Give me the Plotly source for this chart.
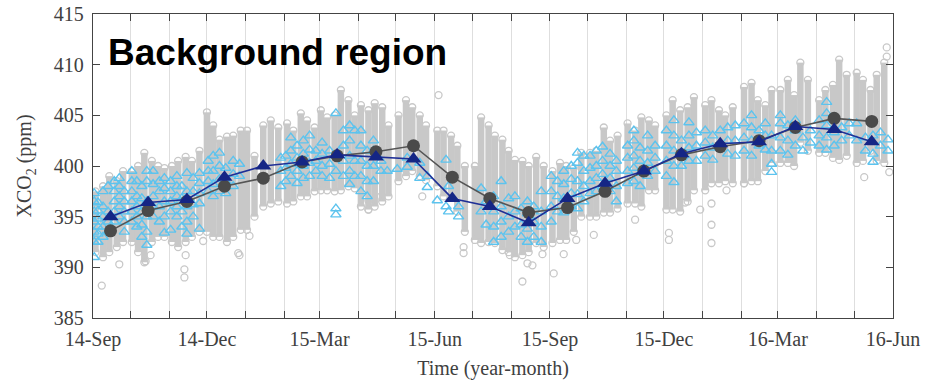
import plotly.graph_objects as go

# ---------------- data ----------------
# monthly means (mid-month)
mean_dates = ["2014-09-15", "2014-10-15", "2014-11-15", "2014-12-15", "2015-01-15", "2015-02-15",
              "2015-03-15", "2015-04-15", "2015-05-15", "2015-06-15", "2015-07-15", "2015-08-15",
              "2015-09-15", "2015-10-15", "2015-11-15", "2015-12-15", "2016-01-15", "2016-02-15",
              "2016-03-15", "2016-04-15", "2016-05-15"]
gray_mean = [393.6, 395.6, 396.5, 398.0, 398.8, 400.4, 401.0, 401.4, 402.0, 398.9, 396.8, 395.4,
             395.9, 397.5, 399.5, 401.1, 401.9, 402.5, 403.8, 404.7, 404.4]
blue_mean = [395.0, 396.4, 396.7, 398.9, 400.0, 400.4, 401.1, 400.9, 400.7, 396.8, 396.0, 394.4,
             396.8, 398.3, 399.5, 401.2, 402.2, 402.4, 403.9, 403.6, 402.4]

# dense grey sounding columns: date, lowest, highest value
col_dates = ["2014-09-03", "2014-09-09", "2014-09-14", "2014-09-20", "2014-09-25",
             "2014-10-02", "2014-10-07", "2014-10-12", "2014-10-18", "2014-10-23", "2014-10-28",
             "2014-11-03", "2014-11-08", "2014-11-14", "2014-11-19", "2014-11-25",
             "2014-12-01", "2014-12-06", "2014-12-11", "2014-12-17", "2014-12-22", "2014-12-28",
             "2015-01-02", "2015-01-08", "2015-01-15", "2015-01-21", "2015-01-27",
             "2015-02-03", "2015-02-08", "2015-02-14", "2015-02-19", "2015-02-25",
             "2015-03-02", "2015-03-07", "2015-03-13", "2015-03-18", "2015-03-24", "2015-03-29",
             "2015-04-03", "2015-04-09", "2015-04-14", "2015-04-20", "2015-04-25",
             "2015-05-03", "2015-05-09", "2015-05-14", "2015-05-20", "2015-05-25",
             "2015-06-03", "2015-06-08", "2015-06-14", "2015-06-19", "2015-06-25",
             "2015-07-03", "2015-07-08", "2015-07-14", "2015-07-19", "2015-07-25", "2015-07-30",
             "2015-08-04", "2015-08-10", "2015-08-15", "2015-08-21", "2015-08-27",
             "2015-09-03", "2015-09-09", "2015-09-14", "2015-09-20", "2015-09-26",
             "2015-10-03", "2015-10-08", "2015-10-14", "2015-10-19", "2015-10-25",
             "2015-11-02", "2015-11-08", "2015-11-13", "2015-11-19", "2015-11-24",
             "2015-12-03", "2015-12-08", "2015-12-14", "2015-12-20", "2015-12-25",
             "2016-01-03", "2016-01-08", "2016-01-14", "2016-01-19", "2016-01-25",
             "2016-02-03", "2016-02-09", "2016-02-14", "2016-02-20", "2016-02-25",
             "2016-03-03", "2016-03-09", "2016-03-14", "2016-03-19", "2016-03-25",
             "2016-04-03", "2016-04-08", "2016-04-14", "2016-04-19", "2016-04-25",
             "2016-05-03", "2016-05-08", "2016-05-14", "2016-05-19", "2016-05-25"]
col_low = [391.5, 391.0, 391.5, 392.0, 392.5,
           392.5, 391.5, 390.5, 392.5, 393.0, 393.0,
           392.5, 392.0, 392.5, 393.0, 393.5,
           393.5, 393.0, 393.0, 392.5, 393.0, 393.7,
           393.7, 395.0, 396.0, 396.3, 396.5,
           396.3, 396.5, 397.0, 397.0, 397.5,
           397.6, 397.6, 397.5, 397.6, 398.0, 397.8,
           396.0, 395.7, 396.0, 396.5, 397.0,
           398.5, 399.0, 399.5, 399.0, 398.6,
           398.0, 397.0, 397.0, 395.5, 393.5,
           392.7, 392.4, 392.5, 392.4, 391.7, 391.5,
           391.0, 391.2, 391.5, 392.4, 392.0,
           392.4, 392.7, 392.7, 393.5, 395.0,
           395.0, 395.0, 395.4, 395.4, 395.8,
           396.3, 396.3, 396.0, 397.6, 397.6,
           395.7, 395.7, 395.5, 396.5, 397.6,
           397.6, 398.3, 398.3, 398.5, 398.3,
           398.3, 398.5, 398.5, 399.5, 400.3,
           400.3, 400.3, 400.0, 402.3, 401.5,
           401.3, 401.3, 400.8, 400.6, 401.0,
           400.3, 400.5, 401.5, 400.5, 400.3]
col_high = [397.5, 398.0, 399.0, 398.5, 399.5,
            399.5, 400.0, 401.3, 400.5, 400.0, 399.8,
            400.0, 400.5, 400.9, 400.5, 401.5,
            405.3, 404.0, 402.6, 402.9, 403.0, 403.5,
            403.5, 401.0, 404.0, 404.5, 403.8,
            404.2, 403.5, 405.2, 404.5, 403.8,
            405.5, 404.8, 405.0, 407.5, 406.5, 405.0,
            406.0, 405.5, 406.2, 405.8, 404.0,
            405.0, 406.5, 405.8, 405.0, 404.0,
            403.5, 403.5, 403.0, 402.0, 400.0,
            400.0, 404.8, 404.0, 403.0, 402.6, 401.5,
            400.6, 400.5, 400.0, 400.9, 400.0,
            399.5, 400.3, 400.0, 399.8, 401.3,
            401.3, 401.5, 403.8, 402.5, 403.0,
            404.2, 403.5, 404.8, 404.5, 404.0,
            405.0, 406.5, 405.5, 405.8, 406.8,
            406.0, 406.5, 405.5, 405.0, 405.8,
            407.8, 408.2, 406.5, 406.0, 407.5,
            407.5, 408.5, 407.0, 410.2, 408.5,
            406.5, 407.5, 408.0, 410.5, 409.0,
            409.2, 408.5, 407.5, 409.0, 410.2]

# isolated grey soundings
gray_out_dates = ["2014-09-08", "2014-09-22", "2014-10-13", "2014-10-17", "2014-11-13", "2014-11-13",
                  "2014-11-14", "2014-11-28", "2014-12-27", "2015-01-04", "2014-12-26",
                  "2015-04-09", "2015-04-09", "2015-04-19", "2015-05-22", "2015-06-04",
                  "2015-06-24", "2015-06-24", "2015-07-31", "2015-08-10", "2015-08-14",
                  "2015-08-18", "2015-08-26", "2015-09-04", "2015-09-12", "2015-09-22",
                  "2015-10-06", "2015-11-08", "2015-12-05", "2015-12-05", "2015-12-18",
                  "2015-12-30", "2016-01-08", "2016-01-08", "2016-01-08", "2016-01-20",
                  "2016-02-03", "2016-05-09", "2016-05-27", "2016-05-27", "2016-05-29"]
gray_out_vals = [388.2, 390.3, 390.6, 391.2, 389.0, 389.8,
                 391.2, 392.6, 391.2, 393.1, 391.4,
                 396.6, 395.7, 397.0, 397.0, 407.0,
                 392.0, 391.4, 391.2, 388.6, 390.4,
                 390.2, 391.3, 389.4, 391.3, 392.7,
                 393.2, 394.7, 393.4, 392.7, 396.4,
                 395.7, 394.2, 396.3, 392.4, 397.6,
                 398.3, 398.9, 411.7, 410.8, 399.4]

# light-blue triangle soundings: (date, value)
blue_pts = [
    ("2014-09-02", 391.0), ("2014-09-02", 392.5), ("2014-09-02", 393.5), ("2014-09-02", 394.5),
    ("2014-09-02", 395.5), ("2014-09-02", 396.5), ("2014-09-02", 397.3),
    ("2014-09-05", 392.5), ("2014-09-05", 393.3), ("2014-09-05", 394.0), ("2014-09-05", 394.8),
    ("2014-09-05", 395.6), ("2014-09-05", 396.4),
    ("2014-09-09", 393.0), ("2014-09-09", 394.0), ("2014-09-09", 395.0), ("2014-09-09", 396.0),
    ("2014-09-09", 397.5),
    ("2014-09-13", 393.5), ("2014-09-13", 394.5), ("2014-09-13", 395.5), ("2014-09-13", 398.0),
    ("2014-09-18", 394.5), ("2014-09-18", 395.5), ("2014-09-18", 396.5), ("2014-09-18", 397.5),
    ("2014-09-18", 398.5),
    ("2014-09-22", 395.0), ("2014-09-22", 396.0), ("2014-09-22", 397.0), ("2014-09-22", 398.0),
    ("2014-09-22", 398.8),
    ("2014-09-26", 393.5), ("2014-09-26", 394.5), ("2014-09-26", 395.5), ("2014-09-26", 396.5),
    ("2014-09-26", 397.5),
    ("2014-10-02", 394.5), ("2014-10-02", 395.5), ("2014-10-02", 396.5), ("2014-10-02", 397.5),
    ("2014-10-02", 398.5), ("2014-10-02", 399.5),
    ("2014-10-06", 394.0), ("2014-10-06", 395.0), ("2014-10-06", 396.0), ("2014-10-06", 397.0),
    ("2014-10-06", 398.5),
    ("2014-10-10", 393.0), ("2014-10-10", 394.2), ("2014-10-10", 395.5), ("2014-10-10", 396.8),
    ("2014-10-10", 398.0),
    ("2014-10-14", 392.2), ("2014-10-14", 393.5), ("2014-10-14", 395.0), ("2014-10-14", 396.5),
    ("2014-10-14", 398.5), ("2014-10-14", 399.5),
    ("2014-10-19", 395.0), ("2014-10-19", 396.0), ("2014-10-19", 397.0), ("2014-10-19", 398.2),
    ("2014-10-19", 399.5),
    ("2014-10-24", 394.5), ("2014-10-24", 396.0), ("2014-10-24", 397.5), ("2014-10-24", 398.5),
    ("2014-10-28", 393.4), ("2014-10-28", 395.0), ("2014-10-28", 396.5), ("2014-10-28", 397.8),
    ("2014-10-28", 398.8),
    ("2014-11-02", 393.7), ("2014-11-02", 395.5), ("2014-11-02", 396.5), ("2014-11-02", 397.5),
    ("2014-11-02", 398.5),
    ("2014-11-07", 395.0), ("2014-11-07", 396.0), ("2014-11-07", 397.0), ("2014-11-07", 398.0),
    ("2014-11-07", 399.0),
    ("2014-11-11", 394.0), ("2014-11-11", 395.5), ("2014-11-11", 396.8), ("2014-11-11", 398.0),
    ("2014-11-15", 393.3), ("2014-11-15", 394.5), ("2014-11-15", 396.0), ("2014-11-15", 397.5),
    ("2014-11-15", 399.3),
    ("2014-11-20", 395.0), ("2014-11-20", 396.2), ("2014-11-20", 397.5), ("2014-11-20", 398.8),
    ("2014-11-25", 393.8), ("2014-11-25", 396.3), ("2014-11-25", 397.3), ("2014-11-25", 398.3),
    ("2014-11-25", 399.3),
    ("2014-12-02", 397.5), ("2014-12-02", 398.5), ("2014-12-02", 399.5), ("2014-12-02", 400.5),
    ("2014-12-06", 397.0), ("2014-12-06", 398.2), ("2014-12-06", 399.5), ("2014-12-06", 401.0),
    ("2014-12-11", 397.5), ("2014-12-11", 398.7), ("2014-12-11", 400.0), ("2014-12-11", 401.3),
    ("2014-12-16", 397.3), ("2014-12-16", 398.5), ("2014-12-16", 399.8),
    ("2014-12-22", 398.0), ("2014-12-22", 399.2), ("2014-12-22", 400.5),
    ("2014-12-27", 399.0), ("2014-12-27", 400.2),
    ("2015-01-29", 398.0), ("2015-01-29", 399.5), ("2015-01-29", 400.8),
    ("2015-02-02", 398.5), ("2015-02-02", 399.8), ("2015-02-02", 401.0),
    ("2015-02-06", 399.0), ("2015-02-06", 400.2), ("2015-02-06", 401.5), ("2015-02-06", 402.8),
    ("2015-02-11", 398.3), ("2015-02-11", 399.5), ("2015-02-11", 400.8), ("2015-02-11", 402.0),
    ("2015-02-16", 398.8), ("2015-02-16", 400.0), ("2015-02-16", 401.2), ("2015-02-16", 402.5),
    ("2015-02-21", 399.0), ("2015-02-21", 400.3), ("2015-02-21", 401.6), ("2015-02-21", 403.0),
    ("2015-02-26", 399.5), ("2015-02-26", 400.5), ("2015-02-26", 401.5),
    ("2015-03-03", 399.0), ("2015-03-03", 400.0), ("2015-03-03", 401.2), ("2015-03-03", 402.3),
    ("2015-03-09", 398.8), ("2015-03-09", 400.2), ("2015-03-09", 401.5),
    ("2015-03-14", 395.2), ("2015-03-14", 395.8), ("2015-03-14", 399.5), ("2015-03-14", 401.0),
    ("2015-03-14", 405.2),
    ("2015-03-20", 399.0), ("2015-03-20", 400.5), ("2015-03-20", 402.0), ("2015-03-20", 403.5),
    ("2015-03-25", 398.2), ("2015-03-25", 399.5), ("2015-03-25", 401.0), ("2015-03-25", 402.5),
    ("2015-03-25", 404.0),
    ("2015-03-29", 399.0), ("2015-03-29", 400.5), ("2015-03-29", 403.5),
    ("2015-04-03", 397.5), ("2015-04-03", 399.0), ("2015-04-03", 400.5), ("2015-04-03", 402.0),
    ("2015-04-03", 403.5),
    ("2015-04-08", 397.0), ("2015-04-08", 398.5), ("2015-04-08", 400.0), ("2015-04-08", 401.5),
    ("2015-04-13", 398.5), ("2015-04-13", 400.0), ("2015-04-13", 401.5), ("2015-04-13", 402.5),
    ("2015-04-19", 399.5), ("2015-04-19", 400.5),
    ("2015-04-24", 399.5),
    ("2015-05-02", 399.7), ("2015-05-10", 399.9), ("2015-05-10", 400.8),
    ("2015-05-20", 398.8), ("2015-05-20", 400.3), ("2015-05-26", 397.9), ("2015-05-26", 399.0),
    ("2015-06-03", 396.6), ("2015-06-10", 400.6), ("2015-06-10", 396.0),
    ("2015-06-12", 398.0), ("2015-06-12", 395.5), ("2015-06-20", 396.0), ("2015-06-20", 395.0),
    ("2015-07-08", 397.8), ("2015-07-08", 395.5), ("2015-07-12", 394.2), ("2015-07-12", 396.5),
    ("2015-07-18", 392.5), ("2015-07-18", 394.0), ("2015-07-18", 395.5), ("2015-07-18", 397.0),
    ("2015-07-24", 393.0), ("2015-07-24", 394.5), ("2015-07-24", 396.0), ("2015-07-24", 398.5),
    ("2015-07-30", 393.5), ("2015-07-30", 395.0), ("2015-07-30", 396.8),
    ("2015-08-04", 394.0), ("2015-08-04", 395.5), ("2015-08-04", 397.0),
    ("2015-08-09", 393.0), ("2015-08-09", 394.2), ("2015-08-09", 395.8),
    ("2015-08-14", 392.5), ("2015-08-14", 393.8), ("2015-08-14", 395.3), ("2015-08-14", 396.5),
    ("2015-08-19", 393.0), ("2015-08-19", 394.5), ("2015-08-19", 396.0),
    ("2015-08-25", 392.5), ("2015-08-25", 394.0), ("2015-08-25", 395.5), ("2015-08-25", 397.5),
    ("2015-09-02", 394.5), ("2015-09-02", 396.0), ("2015-09-02", 397.5), ("2015-09-02", 399.0),
    ("2015-09-07", 395.5), ("2015-09-07", 397.0), ("2015-09-07", 398.5),
    ("2015-09-12", 395.4), ("2015-09-12", 396.8), ("2015-09-12", 398.2), ("2015-09-12", 399.5),
    ("2015-09-18", 396.0), ("2015-09-18", 397.3), ("2015-09-18", 398.7), ("2015-09-18", 400.0),
    ("2015-09-23", 395.8), ("2015-09-23", 397.2), ("2015-09-23", 398.5), ("2015-09-23", 400.3),
    ("2015-09-23", 401.3),
    ("2015-09-28", 396.5), ("2015-09-28", 398.0), ("2015-09-28", 399.5), ("2015-09-28", 401.0),
    ("2015-10-03", 397.3), ("2015-10-03", 398.5), ("2015-10-03", 399.8), ("2015-10-03", 401.0),
    ("2015-10-08", 397.5), ("2015-10-08", 398.8), ("2015-10-08", 400.0), ("2015-10-08", 401.5),
    ("2015-10-13", 398.0), ("2015-10-13", 399.2), ("2015-10-13", 400.5), ("2015-10-13", 401.9),
    ("2015-10-19", 397.5), ("2015-10-19", 398.8), ("2015-10-19", 400.0), ("2015-10-19", 401.2),
    ("2015-10-24", 396.5), ("2015-10-24", 398.0), ("2015-10-24", 399.5), ("2015-10-24", 400.5),
    ("2015-11-02", 398.3), ("2015-11-02", 399.5), ("2015-11-02", 400.8), ("2015-11-02", 402.0),
    ("2015-11-07", 398.5), ("2015-11-07", 399.8), ("2015-11-07", 401.0), ("2015-11-07", 402.5),
    ("2015-11-07", 403.5),
    ("2015-11-12", 398.0), ("2015-11-12", 399.3), ("2015-11-12", 400.5), ("2015-11-12", 401.8),
    ("2015-11-18", 399.0), ("2015-11-18", 400.3), ("2015-11-18", 401.5), ("2015-11-18", 403.0),
    ("2015-11-24", 399.5), ("2015-11-24", 400.8), ("2015-11-24", 402.0),
    ("2015-12-03", 399.0), ("2015-12-03", 400.5), ("2015-12-03", 402.0), ("2015-12-03", 403.5),
    ("2015-12-09", 398.4), ("2015-12-09", 400.0), ("2015-12-09", 401.5), ("2015-12-09", 403.0),
    ("2015-12-09", 404.5),
    ("2015-12-15", 400.0), ("2015-12-15", 401.3), ("2015-12-15", 402.5),
    ("2015-12-21", 400.5), ("2015-12-21", 401.8), ("2015-12-21", 403.0), ("2015-12-21", 404.3),
    ("2015-12-27", 400.5), ("2015-12-27", 402.0), ("2015-12-27", 403.3),
    ("2016-01-03", 401.0), ("2016-01-03", 402.3), ("2016-01-03", 403.5),
    ("2016-01-09", 400.6), ("2016-01-09", 401.8), ("2016-01-09", 403.0),
    ("2016-01-15", 402.0), ("2016-01-15", 403.5),
    ("2016-01-21", 401.2), ("2016-01-21", 402.5), ("2016-01-21", 403.8),
    ("2016-01-27", 401.0), ("2016-01-27", 402.5), ("2016-01-27", 404.0),
    ("2016-02-03", 401.5), ("2016-02-03", 402.8), ("2016-02-03", 404.2),
    ("2016-02-09", 401.0), ("2016-02-09", 402.5), ("2016-02-09", 403.8), ("2016-02-09", 405.0),
    ("2016-02-15", 402.0), ("2016-02-15", 403.5),
    ("2016-02-20", 401.6), ("2016-02-20", 403.0), ("2016-02-20", 404.2),
    ("2016-02-25", 399.4), ("2016-02-25", 400.2), ("2016-02-25", 401.5), ("2016-02-25", 403.0),
    ("2016-03-03", 401.5), ("2016-03-03", 402.8), ("2016-03-03", 404.2), ("2016-03-03", 405.0),
    ("2016-03-09", 401.1), ("2016-03-09", 402.5), ("2016-03-09", 404.0),
    ("2016-03-15", 402.0), ("2016-03-15", 403.5), ("2016-03-15", 404.5),
    ("2016-03-21", 401.5), ("2016-03-21", 402.8),
    ("2016-03-27", 402.3), ("2016-03-27", 403.5),
    ("2016-04-03", 402.0), ("2016-04-03", 403.0), ("2016-04-03", 404.5),
    ("2016-04-09", 401.6), ("2016-04-09", 402.8), ("2016-04-09", 404.0), ("2016-04-09", 405.2),
    ("2016-04-09", 406.3),
    ("2016-04-15", 402.0), ("2016-04-15", 403.3),
    ("2016-04-21", 402.5), ("2016-04-21", 403.8),
    ("2016-04-27", 403.0), ("2016-04-27", 404.2),
    ("2016-05-03", 402.5), ("2016-05-03", 404.2),
    ("2016-05-10", 401.5), ("2016-05-10", 402.8),
    ("2016-05-16", 400.4), ("2016-05-16", 401.2), ("2016-05-16", 403.0),
    ("2016-05-22", 402.0), ("2016-05-22", 403.3),
    ("2016-05-28", 401.5), ("2016-05-28", 402.6),
]

x_tick_start = "2014-09-01"
x_end = "2016-06-01"
y_range = [385, 415]

# ---------------- figure ----------------
SERIF = "Liberation Serif, Times New Roman, serif"
TXT = "#404040"
GRAY_PT = "#c8c8c8"
BLUE_PT = "#5cc3ee"

fig = go.Figure()

# grey columns as vertical ranges
seg_x, seg_y = [], []
for d, lo, hi in zip(col_dates, col_low, col_high):
    seg_x += [d, d, None]
    seg_y += [lo, hi, None]
fig.add_trace(go.Scatter(x=seg_x, y=seg_y, mode="lines",
                         line=dict(color=GRAY_PT, width=6.5), hoverinfo="skip", showlegend=False))
# column end circles
fig.add_trace(go.Scatter(x=col_dates + col_dates, y=col_low + col_high, mode="markers",
                         marker=dict(symbol="circle-open", size=7, color=GRAY_PT, line=dict(width=1.3)),
                         showlegend=False))
fig.add_trace(go.Scatter(x=gray_out_dates, y=gray_out_vals, mode="markers",
                         marker=dict(symbol="circle-open", size=7, color=GRAY_PT, line=dict(width=1.3)),
                         showlegend=False))
# light-blue triangles
fig.add_trace(go.Scatter(x=[p[0] for p in blue_pts], y=[p[1] for p in blue_pts], mode="markers",
                         marker=dict(symbol="triangle-up-open", size=9, color=BLUE_PT, line=dict(width=1.4)),
                         showlegend=False))
# monthly means
fig.add_trace(go.Scatter(x=mean_dates, y=gray_mean, mode="lines+markers",
                         line=dict(color="#555555", width=1.6),
                         marker=dict(symbol="circle", size=13, color="#4a4a4a"),
                         showlegend=False))
fig.add_trace(go.Scatter(x=mean_dates, y=blue_mean, mode="lines+markers",
                         line=dict(color="#1f2f96", width=1.6),
                         marker=dict(symbol="triangle-up", size=14, color="#152685"),
                         showlegend=False))

fig.add_annotation(text="<b>Background region</b>", xref="paper", yref="paper",
                   x=0.016, y=0.872, xanchor="left", yanchor="middle", showarrow=False,
                   font=dict(family="Liberation Sans, Arial, sans-serif", size=37, color="#000000"))

fig.update_layout(
    width=936, height=386,
    margin=dict(l=93, r=43, t=14, b=68, autoexpand=False),
    paper_bgcolor="white", plot_bgcolor="white",
    font=dict(family=SERIF, size=20, color=TXT),
)
fig.update_xaxes(
    type="date", range=[x_tick_start, x_end], automargin=False,
    tick0=x_tick_start, dtick="M3", tickformat="%y-%b",
    ticks="inside", ticklen=7, tickcolor="#444444", tickwidth=1.3,
    showline=True, linecolor="#444444", linewidth=1.3, mirror="ticks",
    showgrid=True, gridcolor="#dedede", gridwidth=1.3,
    minor=dict(dtick="M1", tick0=x_tick_start, ticks="inside", ticklen=7,
               tickcolor="#444444", showgrid=True, gridcolor="#dedede", gridwidth=1.3),
    ticklabelstandoff=3,
    tickfont=dict(family=SERIF, size=20, color=TXT),
    title=dict(text="Time (year-month)", font=dict(family=SERIF, size=20, color=TXT), standoff=10),
    zeroline=False,
)
fig.update_yaxes(
    range=y_range, dtick=5, tick0=385, automargin=False,
    ticks="inside", ticklen=7, tickcolor="#444444", tickwidth=1.3,
    showline=True, linecolor="#444444", linewidth=1.3, mirror="ticks",
    showgrid=False, zeroline=False,
    ticklabelstandoff=4,
    tickfont=dict(family=SERIF, size=20, color=TXT),
    title=dict(text="XCO<sub>2</sub> (ppm)", font=dict(family=SERIF, size=20, color=TXT), standoff=16),
)

# remove the default 8 px page margin so the figure sits at the window origin
fig.write_html("out.html", config={"displayModeBar": False},
               post_script="document.body.style.margin='0';document.body.style.overflow='hidden';")
